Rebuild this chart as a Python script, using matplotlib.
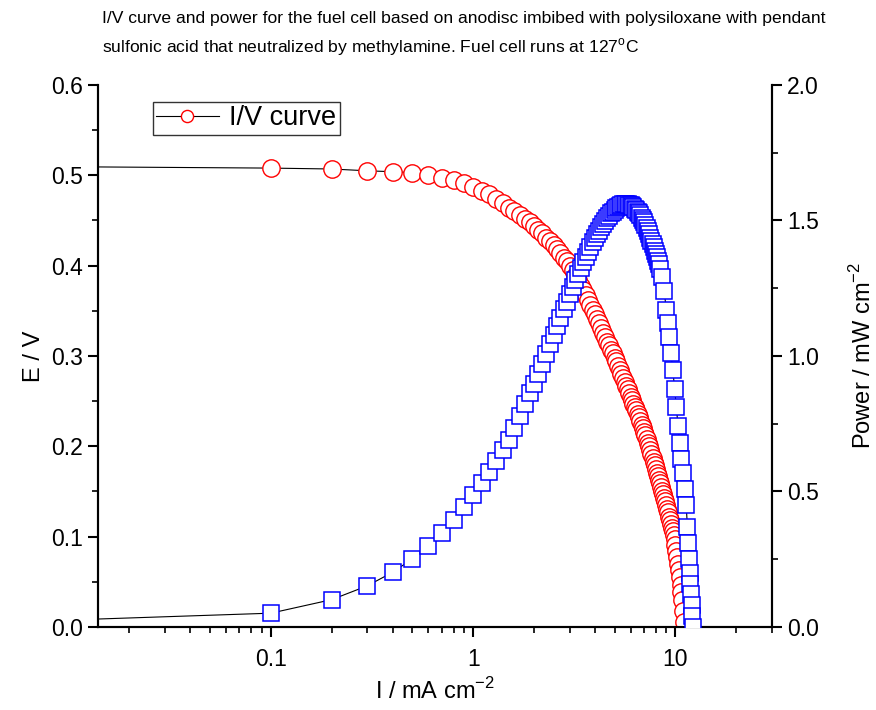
import numpy as np
import matplotlib
matplotlib.use("Agg")
import matplotlib.pyplot as plt
from matplotlib.ticker import FixedLocator, LogLocator, FormatStrFormatter, MultipleLocator, NullFormatter

plt.rcParams['font.family'] = ['Liberation Sans', 'DejaVu Sans']
plt.rcParams['mathtext.fontset'] = 'custom'
plt.rcParams['mathtext.rm'] = 'Liberation Sans'

# I/V curve: current density (mA cm-2) and cell voltage (V)
current_iv = [0.001,
              0.1, 0.2, 0.3, 0.4, 0.5, 0.6, 0.7, 0.8, 0.9, 1.0,
              1.1, 1.2, 1.3, 1.4, 1.5, 1.6, 1.7, 1.8, 1.9, 2.0,
              2.1, 2.2, 2.3, 2.4, 2.5, 2.6, 2.7, 2.8, 2.9, 3.0,
              3.1, 3.2, 3.3, 3.4, 3.5, 3.6, 3.7, 3.8, 3.9, 4.0,
              4.1, 4.2, 4.3, 4.4, 4.5, 4.6, 4.7, 4.8, 4.9, 5.0,
              5.1, 5.2, 5.3, 5.4, 5.5, 5.6, 5.7, 5.8, 5.9, 6.0,
              6.1, 6.2, 6.3, 6.4, 6.5, 6.6, 6.7, 6.8, 6.9, 7.0,
              7.1, 7.2, 7.3, 7.4, 7.5, 7.6, 7.7, 7.8, 7.9, 8.0,
              8.1, 8.2, 8.3, 8.4, 8.5, 8.6, 8.7, 8.8, 8.9, 9.0,
              9.1, 9.2, 9.3, 9.4, 9.5, 9.6, 9.7, 9.8, 9.9, 10.0,
              10.1, 10.2, 10.3, 10.4, 10.5, 10.6, 10.7, 10.8, 10.9, 11.0]
voltage = [0.511,
           0.508, 0.507, 0.505, 0.504, 0.503, 0.500, 0.497, 0.495, 0.492, 0.487,
           0.483, 0.479, 0.474, 0.469, 0.464, 0.460, 0.456, 0.452, 0.448, 0.444,
           0.440, 0.436, 0.431, 0.427, 0.423, 0.418, 0.414, 0.409, 0.405, 0.400,
           0.395, 0.389, 0.384, 0.378, 0.373, 0.367, 0.362, 0.356, 0.351, 0.346,
           0.341, 0.336, 0.331, 0.326, 0.321, 0.316, 0.312, 0.307, 0.303, 0.298,
           0.294, 0.289, 0.285, 0.280, 0.276, 0.271, 0.267, 0.263, 0.259, 0.255,
           0.251, 0.247, 0.243, 0.240, 0.236, 0.232, 0.228, 0.224, 0.220, 0.216,
           0.212, 0.208, 0.204, 0.200, 0.196, 0.191, 0.187, 0.183, 0.179, 0.175,
           0.171, 0.167, 0.163, 0.159, 0.155, 0.151, 0.147, 0.143, 0.139, 0.135,
           0.131, 0.127, 0.122, 0.118, 0.114, 0.110, 0.106, 0.102, 0.097, 0.091,
           0.084, 0.077, 0.070, 0.063, 0.055, 0.047, 0.039, 0.030, 0.018, 0.005]

# power curve: current density (mA cm-2) and power (mW cm-2)
current_pw = [0.001,
              0.1, 0.2, 0.3, 0.4, 0.5, 0.6, 0.7, 0.8, 0.9, 1.0,
              1.1, 1.2, 1.3, 1.4, 1.5, 1.6, 1.7, 1.8, 1.9, 2.0,
              2.1, 2.2, 2.3, 2.4, 2.5, 2.6, 2.7, 2.8, 2.9, 3.0,
              3.1, 3.2, 3.3, 3.4, 3.5, 3.6, 3.7, 3.8, 3.9, 4.0,
              4.1, 4.2, 4.3, 4.4, 4.5, 4.6, 4.7, 4.8, 4.9, 5.0,
              5.1, 5.2, 5.3, 5.4, 5.5, 5.6, 5.7, 5.8, 5.9, 6.0,
              6.1, 6.2, 6.3, 6.4, 6.5, 6.6, 6.7, 6.8, 6.9, 7.0,
              7.1, 7.2, 7.3, 7.4, 7.5, 7.6, 7.7, 7.8, 7.9, 8.0,
              8.1, 8.2, 8.3, 8.4, 8.6, 8.8, 9.0, 9.15, 9.3, 9.5,
              9.7, 9.9, 10.1, 10.3, 10.5, 10.7, 10.9, 11.1, 11.3, 11.45,
              11.55, 11.65, 11.75, 11.85, 11.95, 12.05, 12.1, 12.15]
power = [0.0005,
         0.051, 0.101, 0.152, 0.202, 0.251, 0.300, 0.348, 0.396, 0.443, 0.487,
         0.530, 0.572, 0.613, 0.652, 0.690, 0.736, 0.780, 0.822, 0.862, 0.898,
         0.935, 0.972, 1.008, 1.043, 1.078, 1.110, 1.142, 1.172, 1.201, 1.229,
         1.255, 1.280, 1.303, 1.325, 1.346, 1.366, 1.385, 1.403, 1.420, 1.436,
         1.450, 1.463, 1.476, 1.488, 1.499, 1.509, 1.518, 1.526, 1.533, 1.540,
         1.546, 1.551, 1.555, 1.558, 1.560, 1.561, 1.561, 1.560, 1.558, 1.556,
         1.553, 1.549, 1.544, 1.539, 1.533, 1.526, 1.519, 1.511, 1.502, 1.493,
         1.483, 1.472, 1.461, 1.449, 1.437, 1.425, 1.413, 1.401, 1.389, 1.377,
         1.366, 1.352, 1.338, 1.322, 1.29, 1.24, 1.17, 1.12, 1.07, 1.01,
         0.95, 0.88, 0.81, 0.74, 0.68, 0.62, 0.57, 0.51, 0.45, 0.37,
         0.31, 0.25, 0.20, 0.16, 0.12, 0.08, 0.04, 0.0]

title_lines = ["I/V curve and power for the fuel cell based on anodisc imbibed with polysiloxane with pendant",
               "sulfonic acid that neutralized by methylamine. Fuel cell runs at 127$^{\\rm o}$C"]

fig = plt.figure(figsize=(8.76, 7.10), dpi=100)
ax = fig.add_axes([0.1119, 0.1169, 0.7694, 0.7634])
ax2 = ax.twinx()

ax.plot(current_iv, voltage, color='black', lw=0.8, marker='o', ms=12.5,
        mfc='white', mec='#ff0000', mew=1.0, label='I/V curve', zorder=3)
ax2.plot(current_pw, power, color='black', lw=0.8, marker='s', ms=11.5,
         mfc='white', mec='#0000ff', mew=1.1, zorder=3)

ax.set_xscale('log')
ax.set_xlim(0.014, 30)
ax.set_ylim(0, 0.6)
ax2.set_ylim(0, 2.0)

ax.xaxis.set_major_locator(FixedLocator([0.1, 1, 10]))
ax.xaxis.set_minor_locator(LogLocator(base=10, subs=np.arange(2, 10), numticks=20))
ax.xaxis.set_minor_formatter(NullFormatter())
ax.set_xticklabels(['0.1', '1', '10'])
ax.yaxis.set_major_locator(MultipleLocator(0.1))
ax.yaxis.set_minor_locator(MultipleLocator(0.05))
ax.yaxis.set_major_formatter(FormatStrFormatter('%.1f'))
ax2.yaxis.set_major_locator(MultipleLocator(0.5))
ax2.yaxis.set_minor_locator(MultipleLocator(0.25))
ax2.yaxis.set_major_formatter(FormatStrFormatter('%.1f'))

for a in (ax, ax2):
    a.spines['top'].set_visible(False)
    for s in ('left', 'right', 'bottom'):
        a.spines[s].set_linewidth(1.5)
    a.tick_params(which='major', direction='out', length=7, width=1.5, labelsize=16.5, pad=4)
    a.tick_params(which='minor', direction='out', length=4, width=1.2)
ax.tick_params(axis='y', which='both', right=False)
ax2.tick_params(axis='y', which='both', left=False)
ax.tick_params(axis='x', which='major', pad=8)

ax.set_xlabel('I / mA cm$^{-2}$', fontsize=17, labelpad=5)
ax.set_ylabel('E / V', fontsize=17, labelpad=4)
ax2.set_ylabel('Power / mW cm$^{-2}$', fontsize=17, labelpad=22)

leg = ax.legend(loc='upper left', bbox_to_anchor=(0.0816, 0.9686), borderaxespad=0,
                fontsize=19.5, frameon=True, fancybox=False, handlelength=2.3,
                handletextpad=0.4, borderpad=0.12, markerscale=0.7)
leg.get_frame().set_edgecolor('black')
leg.get_frame().set_linewidth(1.0)

fig.text(102 / 876, 1 - 18 / 710, title_lines[0], fontsize=12.6, va='center', ha='left')
fig.text(102 / 876, 1 - 47 / 710, title_lines[1], fontsize=12.6, va='center', ha='left')

fig.savefig('out.png', dpi=100)
